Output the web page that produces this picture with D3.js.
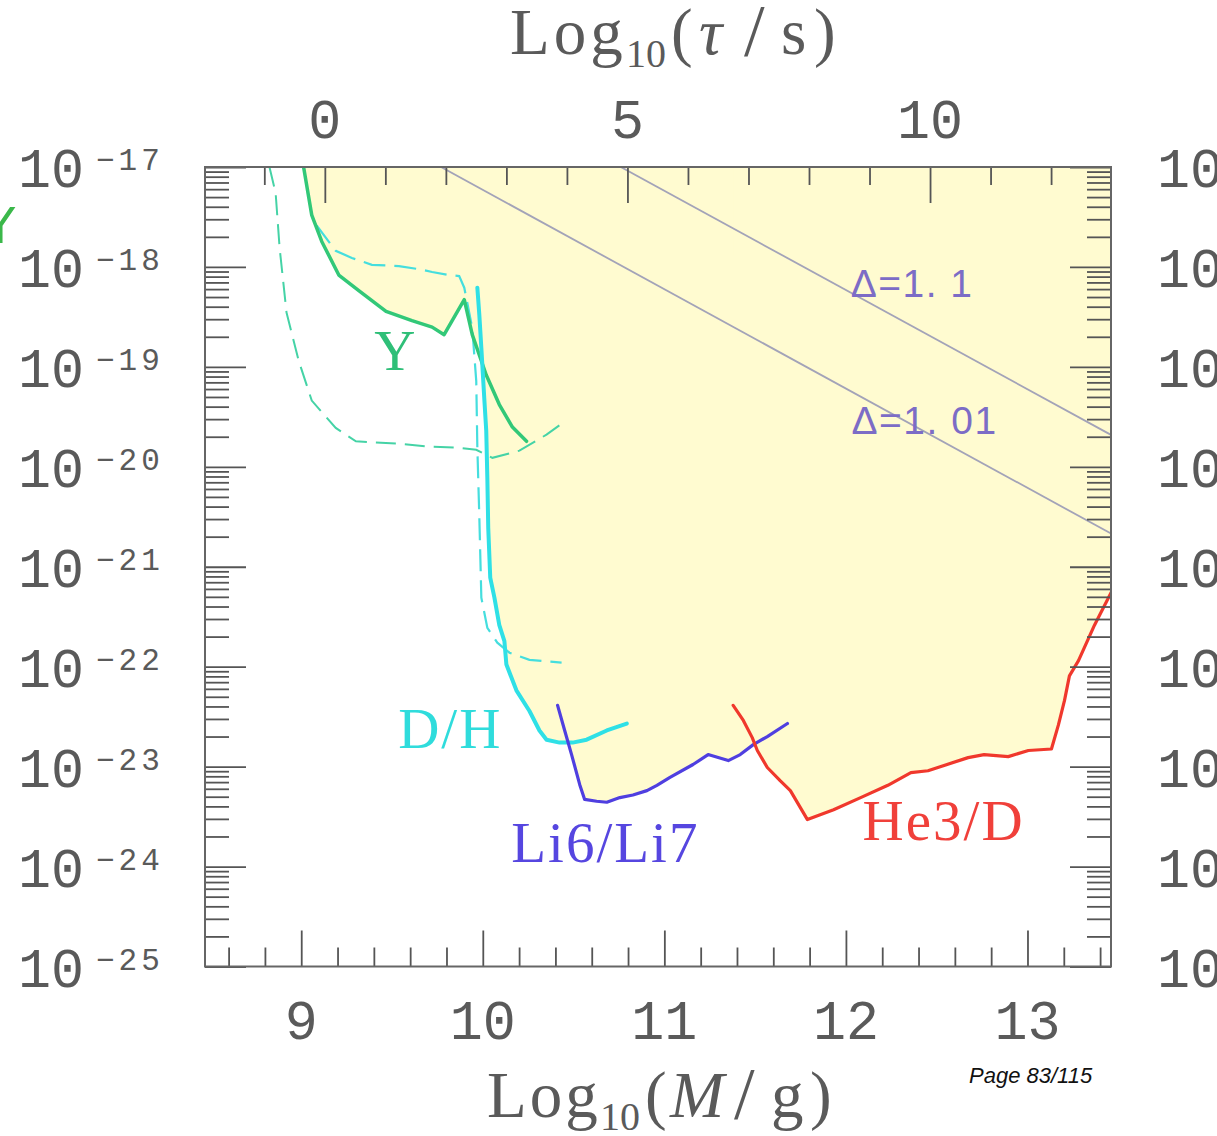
<!DOCTYPE html>
<html>
<head>
<meta charset="utf-8">
<script src="https://cdn.jsdelivr.net/npm/d3@7"></script>
<style>
  body { margin: 0; background: #ffffff; }
  svg { display: block; }
</style>
</head>
<body>
<svg id="chart" width="1217" height="1136"></svg>
<script>
// Constraint curves: [log10(M/g), beta]
const heliumY = [
  [9.013, 1.0e-17], [9.058, 3.3e-18], [9.113, 1.8e-18], [9.207, 8.3e-19], [9.317, 5.8e-19],
  [9.467, 3.6e-19], [9.610, 2.9e-19], [9.721, 2.5e-19], [9.787, 2.1e-19], [9.898, 4.7e-19],
  [9.942, 2.1e-19], [10.019, 8.3e-20], [10.091, 4.2e-20], [10.163, 2.5e-20], [10.241, 1.8e-20]
];
const heliumYDashed = [
  [8.825, 1.0e-17], [8.859, 5.5e-18], [8.881, 1.55e-18], [8.919, 3.5e-19], [8.986, 1.15e-19],
  [9.058, 4.6e-20], [9.190, 2.45e-20], [9.301, 1.8e-20], [9.538, 1.7e-20], [9.688, 1.6e-20],
  [9.870, 1.55e-20], [9.964, 1.48e-20], [10.053, 1.23e-20], [10.202, 1.45e-20], [10.351, 2.1e-20],
  [10.434, 2.7e-20]
];
const deuteriumDashed = [
  [9.085, 2.6e-18], [9.190, 1.45e-18], [9.279, 1.23e-18], [9.389, 1.05e-18], [9.538, 1.02e-18],
  [9.649, 9.5e-19], [9.721, 8.9e-19], [9.815, 8.3e-19], [9.870, 8.1e-19], [9.898, 6.2e-19],
  [9.942, 2.45e-19], [9.964, 7.2e-20], [9.970, 1.55e-20], [9.981, 3.1e-21], [9.992, 4.9e-22],
  [10.025, 2.45e-22], [10.080, 1.74e-22], [10.147, 1.38e-22], [10.257, 1.17e-22], [10.434, 1.1e-22]
];
const deuterium = [
  [9.970, 6.2e-19], [9.981, 3.3e-19], [9.992, 1.55e-19], [10.008, 4.9e-20], [10.019, 2.3e-20],
  [10.025, 7.8e-21], [10.030, 2.45e-21], [10.041, 7.8e-22], [10.064, 4.9e-22], [10.091, 2.6e-22],
  [10.119, 1.8e-22], [10.130, 1.05e-22], [10.185, 5.8e-23], [10.257, 3.6e-23], [10.312, 2.3e-23],
  [10.351, 1.86e-23], [10.423, 1.74e-23], [10.495, 1.74e-23], [10.572, 1.86e-23], [10.683, 2.3e-23],
  [10.793, 2.7e-23]
];
const lithium = [
  [10.412, 4.1e-23], [10.451, 2.3e-23], [10.489, 1.32e-23], [10.534, 6.6e-24], [10.561, 4.7e-24],
  [10.627, 4.5e-24], [10.683, 4.4e-24], [10.755, 4.9e-24], [10.827, 5.2e-24], [10.904, 5.75e-24],
  [10.959, 6.5e-24], [11.031, 7.8e-24], [11.158, 1.05e-23], [11.241, 1.32e-23], [11.352, 1.15e-23],
  [11.418, 1.32e-23], [11.490, 1.66e-23], [11.567, 2.0e-23], [11.678, 2.7e-23]
];
const helium3 = [
  [11.379, 4.1e-23], [11.435, 2.9e-23], [11.484, 1.95e-23], [11.512, 1.45e-23], [11.567, 9.8e-24],
  [11.639, 7.2e-24], [11.694, 5.75e-24], [11.788, 2.95e-24], [11.932, 3.7e-24], [12.081, 4.9e-24],
  [12.231, 6.5e-24], [12.358, 8.7e-24], [12.452, 9.1e-24], [12.673, 1.23e-23], [12.761, 1.32e-23],
  [12.894, 1.26e-23], [13.005, 1.45e-23], [13.132, 1.5e-23], [13.170, 2.6e-23], [13.204, 4.6e-23],
  [13.231, 8.1e-23], [13.281, 1.15e-22], [13.369, 2.6e-22], [13.469, 5.9e-22]
];
// Reference lines for the density contrast Delta
const delta11 = [[10.76, 1.0e-17], [13.47, 2.04e-20]];
const delta101 = [[9.77, 1.0e-17], [13.47, 2.1e-21]];

// Axis ticks and labels
const massMajor = [9, 10, 11, 12, 13];
const tauMajor = [0, 5, 10];
const betaExponents = [-17, -18, -19, -20, -21, -22, -23, -24, -25];
// lifetime: log10(tau/s) = 3 log10(M/g) - 27.39
const tauSlope = 3, tauOffset = 27.39;

// Curve labels: [text, log10 M, beta, colour]
const curveLabels = [
  ["Y", 9.402, 9.3e-20, "#2fbf78"],
  ["D/H", 9.534, 1.55e-23, "#2fdcdc"],
  ["Li6/Li7", 10.157, 1.12e-24, "#5646e0"],
  ["He3/D", 12.092, 1.86e-24, "#f0403a"]
];
const deltaLabels = [
  ["\u0394=1. 1", 12.026, 5.0e-19],
  ["\u0394=1. 01", 12.031, 2.14e-20]
];

const L = 205, R = 1111, T = 167, B = 966.5;
const x = d3.scaleLinear().domain([8.47, 13.46]).range([L, R]);
const y = d3.scaleLog().domain([1e-25, 1e-17]).range([B, T]);
const tau = d3.scaleLinear()
  .domain(x.domain().map(m => tauSlope * m - tauOffset))
  .range([L, R]);

const svg = d3.select("#chart");
svg.append("defs").append("clipPath").attr("id", "plotArea")
  .append("rect").attr("x", L).attr("y", T).attr("width", R - L).attr("height", B - T);

const plot = svg.append("g").attr("clip-path", "url(#plotArea)");

// excluded region: everything above each solid constraint
const fillColor = "#fffbd0";
const above = d3.area().x(d => x(d[0])).y0(y(1e-17)).y1(d => y(d[1]));
[heliumY, deuterium, lithium, helium3].forEach(s => {
  plot.append("path").attr("d", above(s)).attr("fill", fillColor).attr("stroke", "none");
});

const line = d3.line().x(d => x(d[0])).y(d => y(d[1]));

[delta11, delta101].forEach(s => {
  plot.append("path").attr("d", line(s)).attr("fill", "none")
    .attr("stroke", "#a3a3b8").attr("stroke-width", 1.8);
});

plot.append("path").attr("d", line(heliumYDashed)).attr("fill", "none")
  .attr("stroke", "#45d3a6").attr("stroke-width", 2).attr("stroke-dasharray", "20,9");
plot.append("path").attr("d", line(deuteriumDashed)).attr("fill", "none")
  .attr("stroke", "#45dede").attr("stroke-width", 2.2).attr("stroke-dasharray", "22,9");

const solid = [
  [heliumY, "#32c878", 3.5],
  [deuterium, "#2fe0e6", 4],
  [lithium, "#4f3fe0", 3.2],
  [helium3, "#f0382c", 3.2]
];
solid.forEach(([s, c, w]) => {
  plot.append("path").attr("d", line(s)).attr("fill", "none")
    .attr("stroke", c).attr("stroke-width", w)
    .attr("stroke-linejoin", "round").attr("stroke-linecap", "round");
});

// curve labels
curveLabels.forEach(([t, m, b, c]) => {
  svg.append("text").attr("x", x(m)).attr("y", y(b)).text(t)
    .attr("font-family", "'Liberation Serif', 'Times New Roman', serif")
    .attr("font-size", 57).attr("letter-spacing", 2).attr("fill", c);
});
deltaLabels.forEach(([t, m, b]) => {
  svg.append("text").attr("x", x(m)).attr("y", y(b)).text(t)
    .attr("font-family", "'Liberation Sans', Arial, sans-serif")
    .attr("font-size", 39).attr("letter-spacing", 1.5).attr("fill", "#7c6cc6");
});

// ticks
const tickColor = "#555";
const allBeta = y.ticks();
const minorBeta = allBeta.filter(v => Math.abs(Math.log10(v) - Math.round(Math.log10(v))) > 1e-6);
const majorBeta = betaExponents.map(e => Math.pow(10, e));
const minorMass = d3.range(8.6, 13.5, 0.2).map(v => +v.toFixed(1)).filter(v => Math.abs(v - Math.round(v)) > 1e-6 && v <= 13.46);
const minorTau = d3.range(-1, 13, 1).filter(v => !tauMajor.includes(v));

function drawAxis(gen, tx, ty) {
  const g = svg.append("g").attr("transform", `translate(${tx},${ty})`).call(gen);
  g.select(".domain").remove();
  g.selectAll("text").remove();
  g.selectAll("line").attr("stroke", tickColor).attr("stroke-width", 1.8);
}
drawAxis(d3.axisLeft(y).tickValues(majorBeta).tickSize(-41), L, 0);
drawAxis(d3.axisLeft(y).tickValues(minorBeta).tickSize(-24), L, 0);
drawAxis(d3.axisRight(y).tickValues(majorBeta).tickSize(-41), R, 0);
drawAxis(d3.axisRight(y).tickValues(minorBeta).tickSize(-24), R, 0);
drawAxis(d3.axisBottom(x).tickValues(massMajor).tickSize(-36), 0, B);
drawAxis(d3.axisBottom(x).tickValues(minorMass).tickSize(-19), 0, B);
drawAxis(d3.axisTop(tau).tickValues(tauMajor).tickSize(-36), 0, T);
drawAxis(d3.axisTop(tau).tickValues(minorTau).tickSize(-18), 0, T);

// frame
svg.append("rect").attr("x", L).attr("y", T).attr("width", R - L).attr("height", B - T)
  .attr("fill", "none").attr("stroke", "#666").attr("stroke-width", 2);

// tick labels
const labelFont = "'Liberation Mono', 'DejaVu Sans Mono', monospace";
const labelColor = "#5a5a5a";
betaExponents.forEach(e => {
  const ty = y(Math.pow(10, e));
  svg.append("text").attr("x", 18).attr("y", ty + 20).text("10")
    .attr("font-family", labelFont).attr("font-size", 55).attr("fill", labelColor);
  svg.append("text").attr("x", 96).attr("y", ty + 3).text("\u2212" + Math.abs(e))
    .attr("font-family", labelFont).attr("font-size", 31).attr("letter-spacing", 4)
    .attr("fill", labelColor);
  // right-hand copy runs off the page edge
  svg.append("text").attr("x", 1157).attr("y", ty + 20).text("10")
    .attr("font-family", labelFont).attr("font-size", 55).attr("fill", labelColor);
});
massMajor.forEach(m => {
  svg.append("text").attr("x", x(m)).attr("y", 1039).text(m)
    .attr("text-anchor", "middle").attr("font-family", labelFont)
    .attr("font-size", 55).attr("fill", labelColor);
});
tauMajor.forEach(t => {
  svg.append("text").attr("x", tau(t)).attr("y", 138).text(t)
    .attr("text-anchor", "middle").attr("font-family", labelFont)
    .attr("font-size", 55).attr("fill", labelColor);
});

// axis titles
function title(parts, baseline) {
  parts.forEach(([t, px, size, dy, italic, ls]) => {
    svg.append("text").attr("x", px).attr("y", baseline + dy).text(t)
      .attr("font-family", "'Liberation Serif', 'Times New Roman', serif")
      .attr("font-size", size)
      .attr("font-style", italic ? "italic" : "normal")
      .attr("letter-spacing", ls || 0)
      .attr("fill", labelColor);
  });
}
title([["Log", 510, 65, 0, false, 4], ["10", 626, 40, 13], ["(", 671, 65, 0],
       ["\u03c4", 699, 65, 0, true], ["/", 744, 74, 2], ["s", 781, 65, 0], [")", 814, 65, 0]], 54);
title([["Log", 487, 65, 0, false, 3], ["10", 600, 40, 13], ["(", 645, 65, 0],
       ["M", 670, 65, 0, true], ["/", 734, 74, 2], ["g", 771, 65, 0], [")", 810, 65, 0]], 1117);

// partially visible axis letter at the left edge
svg.append("text").attr("x", 0).attr("y", 243).text("Y")
  .attr("text-anchor", "middle").attr("font-family", "'DejaVu Sans', sans-serif")
  .attr("font-size", 50).attr("fill", "#3bb84a");

// page footer
svg.append("text").attr("x", 969).attr("y", 1083).text("Page 83/115")
  .attr("font-family", "'Liberation Sans', Arial, sans-serif").attr("font-style", "italic")
  .attr("font-size", 22).attr("fill", "#111");
</script>
</body>
</html>
